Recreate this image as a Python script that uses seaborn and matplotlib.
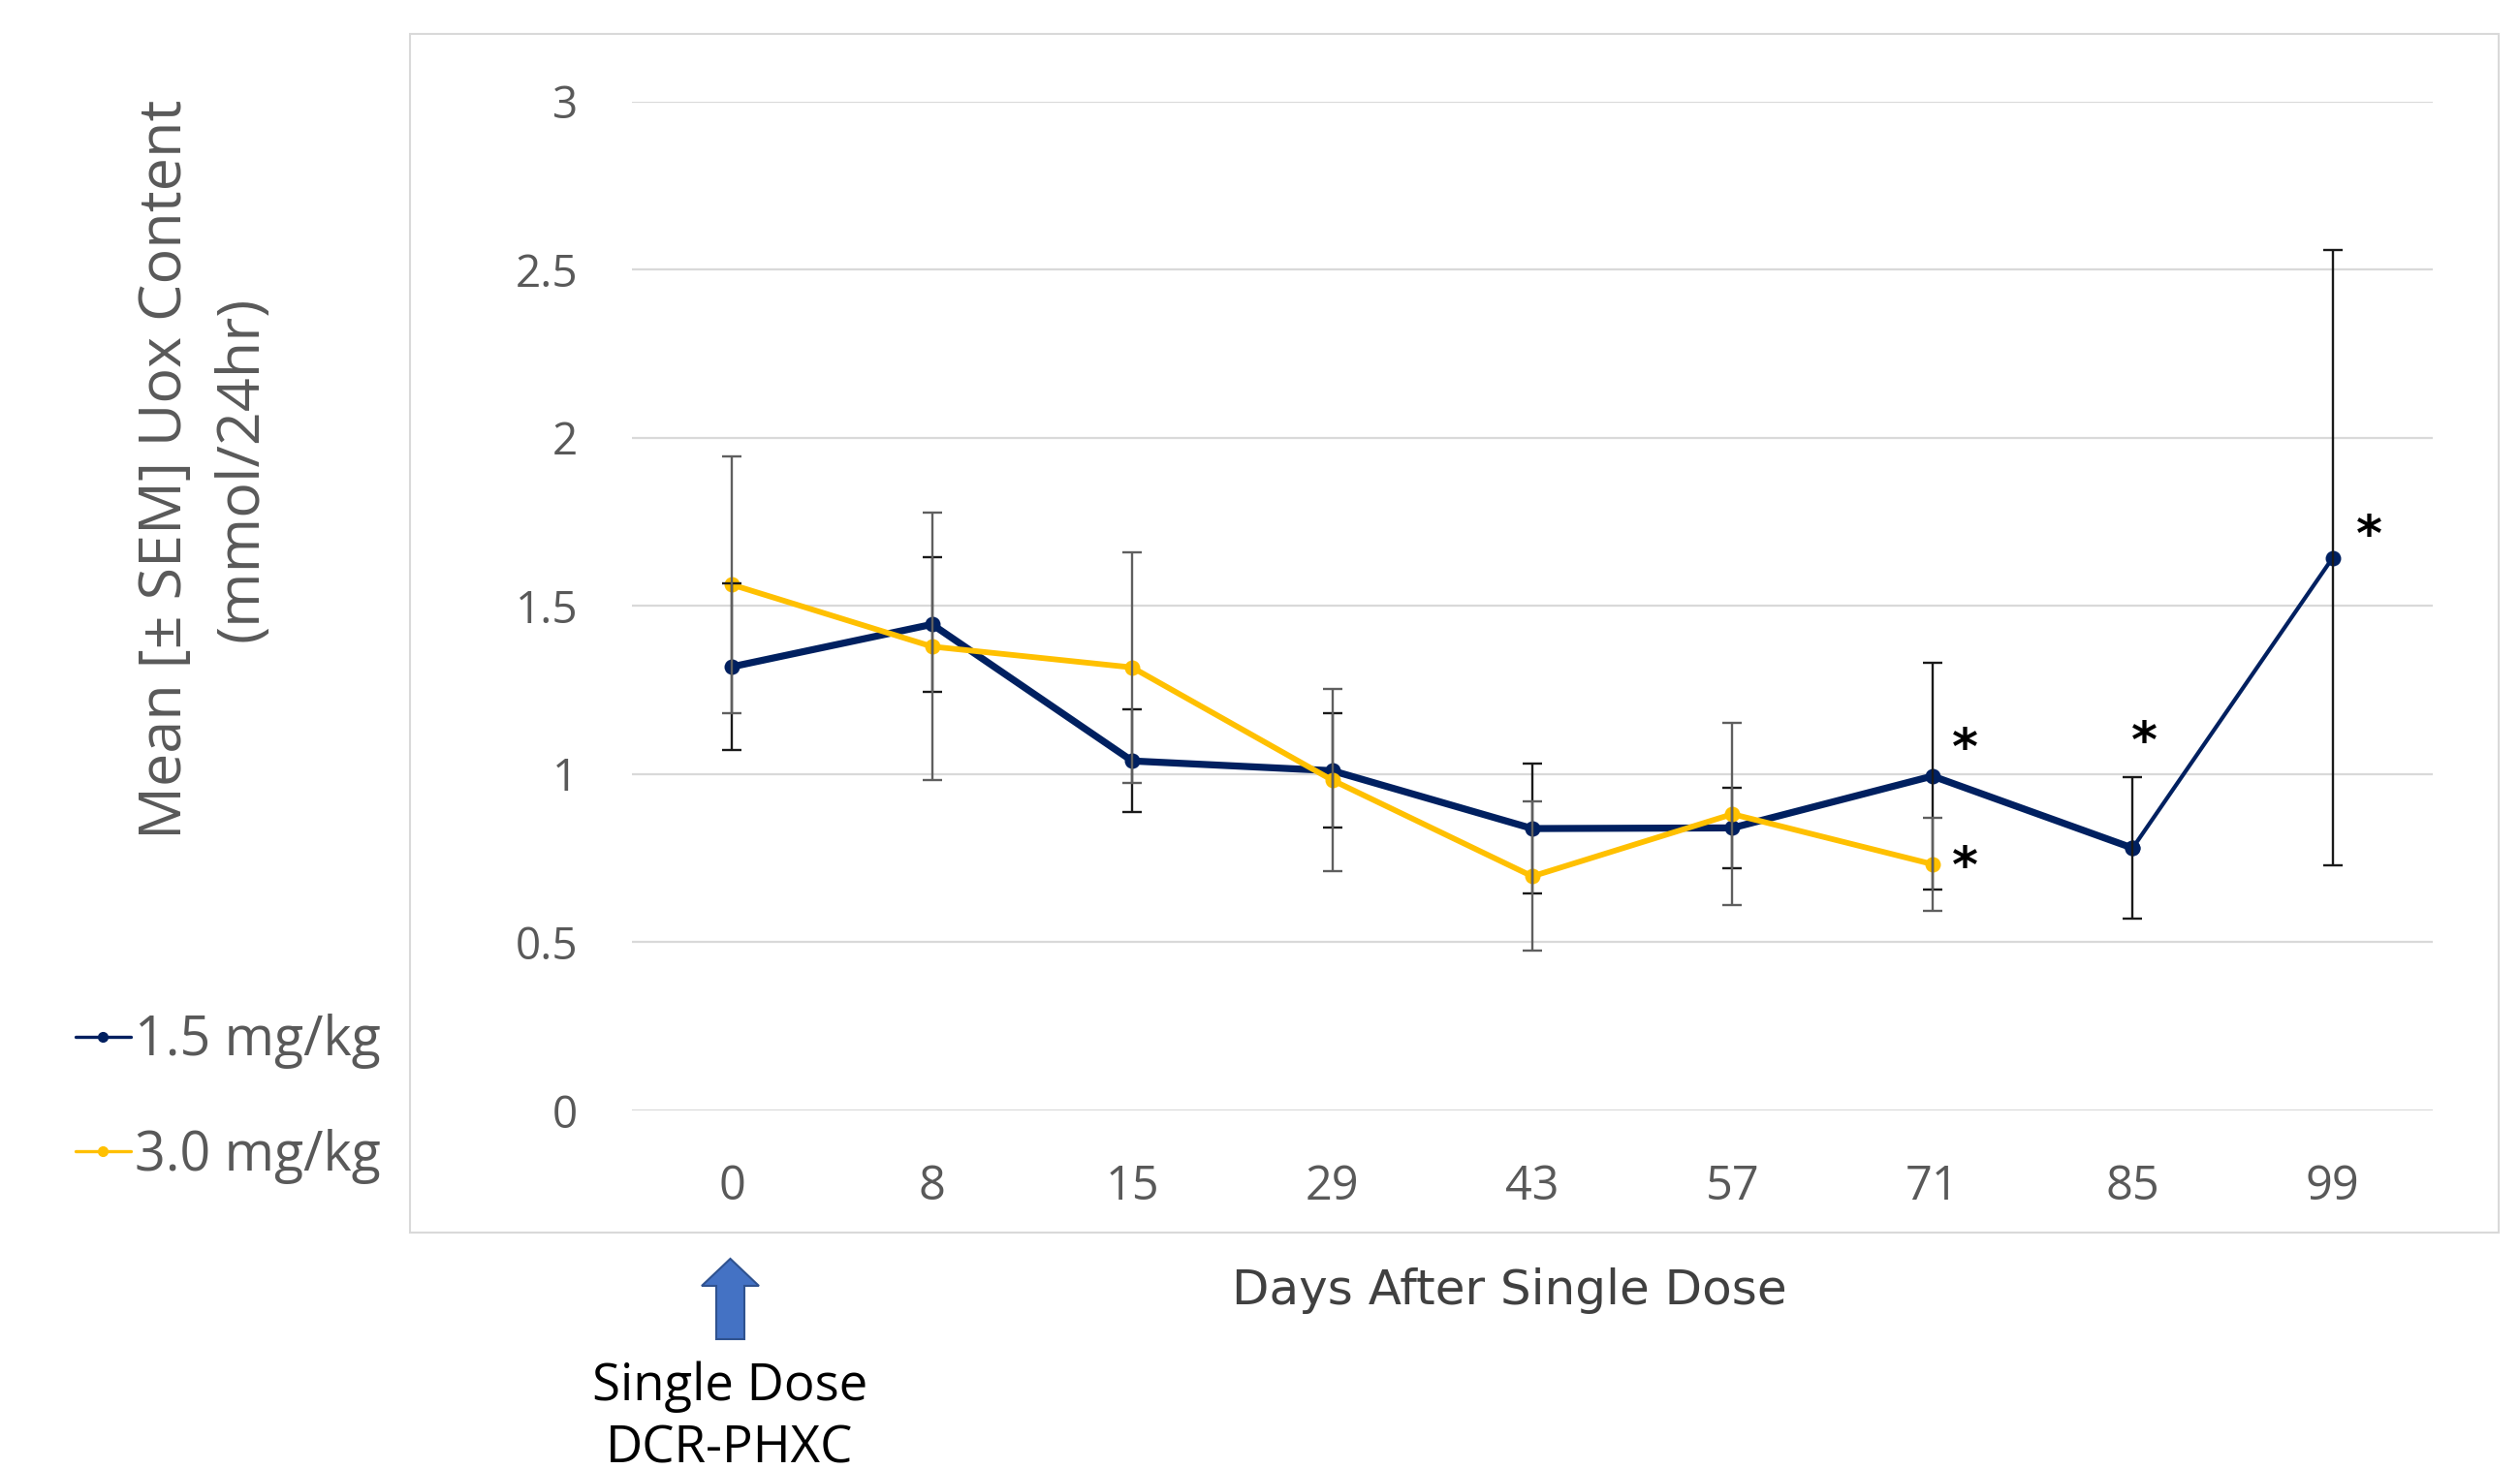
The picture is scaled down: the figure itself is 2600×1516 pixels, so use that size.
import numpy as np
import pandas as pd
import seaborn as sns
import matplotlib
matplotlib.use("Agg")
import matplotlib.pyplot as plt
from matplotlib.patches import Rectangle, Polygon
from matplotlib.lines import Line2D

# ---------------- data ----------------
days = ["0", "8", "15", "29", "43", "57", "71", "85", "99"]
low_dose_mean = [1.319, 1.445, 1.039, 1.010, 0.838, 0.840, 0.994, 0.780, 1.643]
low_dose_sem = [0.247, 0.200, 0.153, 0.170, 0.192, 0.120, 0.338, 0.210, 0.914]
high_dose_days = ["0", "8", "15", "29", "43", "57", "71"]
high_dose_mean = [1.563, 1.379, 1.317, 0.982, 0.696, 0.881, 0.732]
high_dose_sem = [0.381, 0.398, 0.343, 0.270, 0.222, 0.270, 0.139]
series_labels = ["1.5 mg/kg", "3.0 mg/kg"]
y_ticks = [0, 0.5, 1, 1.5, 2, 2.5, 3]
y_tick_labels = ["0", "0.5", "1", "1.5", "2", "2.5", "3"]
# significance markers: (day, value at asterisk centre)
star_days = ["71", "71", "85", "99"]
star_values = [1.117, 0.765, 1.137, 1.751]
star_dx = [0.16, 0.16, 0.06, 0.18]

NAVY = "#002060"
YELLOW = "#FFC000"
GRAY_TXT = "#595959"

sns.set_theme(style="white")
plt.rcParams["font.family"] = ["Open Sans", "DejaVu Sans"]

W, H = 2600, 1516
fig = plt.figure(figsize=(W / 100, H / 100), dpi=100)
fig.patch.set_facecolor("white")

def fx(px):
    return px / W

def fy(py):
    return 1 - py / H

# chart border
fig.patches.append(Rectangle((fx(423), fy(1272)), fx(2578) - fx(423), fy(35) - fy(1272),
                             transform=fig.transFigure, fill=False,
                             edgecolor="#D9D9D9", lw=1.5, zorder=0))

ax = fig.add_axes([fx(652), fy(1146), fx(2510) - fx(652), fy(104.5) - fy(1146)])
ax.set_facecolor("none")

pos_low = np.array([days.index(d) for d in days])
pos_high = np.array([days.index(d) for d in high_dose_days])

df_low = pd.DataFrame({"pos": pos_low, "val": low_dose_mean})
df_high = pd.DataFrame({"pos": pos_high, "val": high_dose_mean})

# 1.5 mg/kg: thick line to day 85, thinner to day 99
sns.lineplot(data=df_low.iloc[:8], x="pos", y="val", ax=ax, color=NAVY, lw=5.2,
             marker="o", markersize=11.5, markeredgewidth=0, zorder=3)
sns.lineplot(data=df_low.iloc[7:], x="pos", y="val", ax=ax, color=NAVY, lw=3,
             marker="o", markersize=11.5, markeredgewidth=0, zorder=3)
# 3.0 mg/kg
sns.lineplot(data=df_high, x="pos", y="val", ax=ax, color=YELLOW, lw=4.2,
             marker="o", markersize=11.5, markeredgewidth=0, zorder=4)

ax.errorbar(pos_low, low_dose_mean, yerr=low_dose_sem, fmt="none", ecolor="#1a1a1a",
            elinewidth=1.7, capsize=7, capthick=1.7, zorder=5)
ax.errorbar(pos_high, high_dose_mean, yerr=high_dose_sem, fmt="none", ecolor="#5f5f5f",
            elinewidth=1.7, capsize=7, capthick=1.7, zorder=5)

for d, v, dx in zip(star_days, star_values, star_dx):
    ax.annotate("*", xy=(days.index(d) + dx, v), xytext=(0, -21.5),
                textcoords="offset points", ha="center", va="baseline",
                fontsize=37, fontweight="bold", color="black",
                family=["DejaVu Sans"], zorder=6)

ax.set_xlim(-0.5, len(days) - 0.5)
ax.set_ylim(0, 3)
ax.set_xticks(pos_low)
ax.set_xticklabels(days, fontsize=35, color=GRAY_TXT)
ax.set_yticks(y_ticks)
ax.set_yticklabels(y_tick_labels, fontsize=33, color=GRAY_TXT)
ax.tick_params(axis="both", length=0)
ax.tick_params(axis="y", pad=40)
ax.tick_params(axis="x", pad=39)
ax.yaxis.grid(True, color="#D9D9D9", lw=1.6)
ax.xaxis.grid(False)
for s in ax.spines.values():
    s.set_visible(False)
ax.set_xlabel("")
ax.set_ylabel("")

# axis titles
fig.text(fx(1557), fy(1346), "Days After Single Dose", ha="center", va="baseline",
         fontsize=36, color="#404040", family=["DejaVu Sans"])
fig.text(fx(187), fy(484), "Mean [\u00b1 SEM] Uox Content", rotation=90,
         rotation_mode="anchor", ha="center", va="baseline", fontsize=44, color=GRAY_TXT)
fig.text(fx(266), fy(484), "(mmol/24hr)", rotation=90,
         rotation_mode="anchor", ha="center", va="baseline", fontsize=44, color=GRAY_TXT)

# legend
handles = [
    Line2D([0], [0], color=NAVY, lw=2.4, marker="o", markersize=7),
    Line2D([0], [0], color=YELLOW, lw=2.4, marker="o", markersize=7),
]
fig.legend(handles, series_labels, loc="center left",
           bbox_to_anchor=(fx(78), fy(1134)), bbox_transform=fig.transFigure,
           frameon=False, fontsize=40, labelcolor=GRAY_TXT, handlelength=1.02,
           handletextpad=0.08, labelspacing=1.1, borderpad=0, borderaxespad=0)

# dose arrow and caption
arrow_px = [(724, 1327), (753.5, 1299), (783, 1327), (768, 1327),
            (768, 1382), (739, 1382), (739, 1327)]
fig.patches.append(Polygon([(fx(x), fy(y)) for x, y in arrow_px], closed=True,
                           transform=fig.transFigure, facecolor="#4472C4",
                           edgecolor="#2F528F", lw=1.5))
fig.text(fx(753), fy(1445), "Single Dose", ha="center", va="baseline",
         fontsize=38, color="black")
fig.text(fx(753), fy(1510), "DCR-PHXC", ha="center", va="baseline",
         fontsize=38, color="black")

fig.savefig("out.png", dpi=100, facecolor="white")
